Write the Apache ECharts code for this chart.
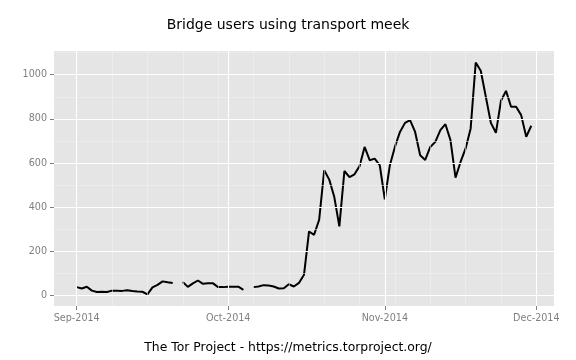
<!DOCTYPE html>
<html>
<head>
<meta charset="utf-8">
<script src="https://cdn.jsdelivr.net/npm/echarts@6/dist/echarts.min.js"></script>
<style>
html,body{margin:0;padding:0;background:#fff;}
#chart{width:576px;height:360px;}
</style>
</head>
<body>
<div id="chart"></div>
<script>
// ---- data ----
var titleText = 'Bridge users using transport meek';
var captionText = 'The Tor Project - https://metrics.torproject.org/';
var startDate = '2014-09-01';
// daily bridge users, one per day from startDate (null = no data)
var users = [
  38, 32, 40, 22, 16, 17, 16, 22, 22, 21,
  24, 20, 18, 17, 5, 37, 48, 64, 60, 57,
  null, 61, 39, 55, 68, 53, 55, 55, 38, 38,
  40, 40, 40, 26, null, 38, 41, 47, 45, 41,
  32, 33, 51, 41, 57, 94, 290, 275, 343, 567,
  525, 446, 313, 564, 536, 549, 586, 673, 613, 620,
  590, 436, 590, 673, 741, 782, 794, 741, 635, 614,
  673, 696, 749, 776, 704, 534, 605, 666, 757, 1055,
  1018, 900, 782, 737, 882, 927, 855, 855, 817, 719,
  769
];
var xTickDates = ['2014-09-01', '2014-10-01', '2014-11-01', '2014-12-01'];
var xTickLabels = ['Sep-2014', 'Oct-2014', 'Nov-2014', 'Dec-2014'];
var xMinorDates = ['2014-09-08', '2014-09-15', '2014-09-22', '2014-09-29', '2014-10-06',
  '2014-10-13', '2014-10-20', '2014-10-27', '2014-11-03', '2014-11-10', '2014-11-17', '2014-11-24'];
var yTicks = [0, 200, 400, 600, 800, 1000];
var yMinor = [100, 300, 500, 700, 900, 1100];

// ---- helpers ----
var DAY = 86400000;
function ts(s) { var p = s.split('-'); return Date.UTC(+p[0], +p[1] - 1, +p[2]); }
var t0 = ts(startDate);
var dates = users.map(function (v, i) { return t0 + i * DAY; });
var seriesData = users.map(function (v, i) { return [dates[i], v === null ? '-' : v]; });
var xTickVals = xTickDates.map(ts);
var firstDay = dates[0], lastDay = dates[dates.length - 1];
var xPad = (lastDay - firstDay) * 0.05;
var yLo = 5, yHi = 1055; // data range approx for ggplot-style 5% expansion
var yPad = (yHi - yLo) * 0.05;

var minorStyle = { color: '#F2F2F2', width: 0.55, type: 'solid' };
var majorStyle = { color: '#FFFFFF', width: 1.1, type: 'solid' };
var gridLines = [];
xMinorDates.forEach(function (d) { gridLines.push({ xAxis: ts(d), lineStyle: minorStyle }); });
yMinor.forEach(function (v) { gridLines.push({ yAxis: v, lineStyle: minorStyle }); });
xTickVals.forEach(function (v) { gridLines.push({ xAxis: v, lineStyle: majorStyle }); });
yTicks.forEach(function (v) { gridLines.push({ yAxis: v, lineStyle: majorStyle }); });

var font = 'DejaVu Sans';
var chart = echarts.init(document.getElementById('chart'), null, { renderer: 'canvas' });
chart.setOption({
  animation: false,
  backgroundColor: '#FFFFFF',
  title: [
    { text: titleText, left: 'center', top: 13,
      textStyle: { fontFamily: font, fontSize: 14, fontWeight: 'normal', color: '#000' } },
    { text: captionText, left: 'center', top: 337,
      textStyle: { fontFamily: font, fontSize: 12.4, fontWeight: 'normal', color: '#000' } }
  ],
  grid: { left: 54, top: 51, width: 500, height: 255, show: true,
    backgroundColor: '#E5E5E5', borderWidth: 0, containLabel: false },
  xAxis: {
    type: 'value',
    min: firstDay - xPad, max: lastDay + xPad,
    axisLine: { show: false, onZero: false },
    splitLine: { show: false },
    axisTick: { show: true, length: 4, customValues: xTickVals,
      lineStyle: { color: '#7F7F7F', width: 1 } },
    axisLabel: { customValues: xTickVals, margin: 7, color: '#7F7F7F',
      fontFamily: font, fontSize: 9.6,
      formatter: function (v) {
        var i = xTickVals.indexOf(v);
        return i >= 0 ? xTickLabels[i] : '';
      } }
  },
  yAxis: {
    type: 'value',
    min: yLo - yPad, max: yHi + yPad,
    axisLine: { show: false },
    splitLine: { show: false },
    axisTick: { show: true, length: 4, customValues: yTicks,
      lineStyle: { color: '#7F7F7F', width: 1 } },
    axisLabel: { customValues: yTicks, margin: 7, color: '#7F7F7F',
      fontFamily: font, fontSize: 9.6,
      formatter: function (v) { return String(v); } }
  },
  series: [
    { type: 'line', data: [], z: 1, silent: true,
      markLine: { silent: true, symbol: 'none', label: { show: false },
        lineStyle: { type: 'solid' }, emphasis: { disabled: true },
        animation: false, data: gridLines } },
    { type: 'line', data: seriesData, z: 3, showSymbol: false, connectNulls: false,
      lineStyle: { color: '#000000', width: 2 }, itemStyle: { color: '#000' } }
  ]
});
</script>
</body>
</html>
